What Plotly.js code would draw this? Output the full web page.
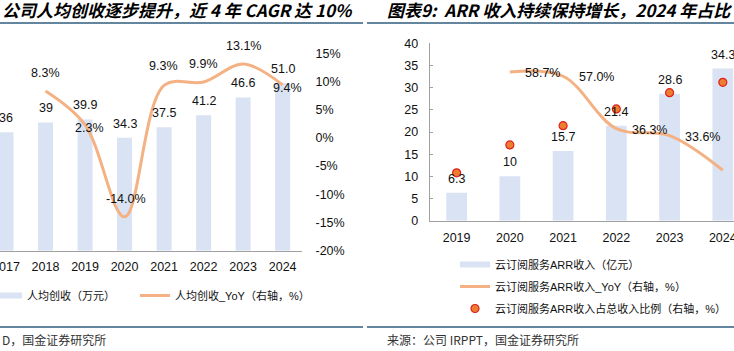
<!DOCTYPE html>
<html>
<head>
<meta charset="utf-8">
<script src="https://cdn.plot.ly/plotly-3.0.1.min.js"></script>
<style>
html,body{margin:0;padding:0;background:#fff;}
#chart{width:734px;height:351px;}
</style>
</head>
<body>
<div id="chart"></div>
<script>
// ---------- data ----------
const leftYears = ['2017','2018','2019','2020','2021','2022','2023','2024'];
const revPerCapita = [36, 39, 39.9, 34.3, 37.5, 41.2, 46.6, 51.0];
const revPerCapitaLabels = ['36','39','39.9','34.3','37.5','41.2','46.6','51.0'];
const yoyYears = ['2018','2019','2020','2021','2022','2023','2024'];
const revYoy = [8.3, 2.3, -14.0, 9.3, 9.9, 13.1, 9.4];
const leftPctTicks = [-20,-15,-10,-5,0,5,10,15];
const leftPctTickText = ['-20%','-15%','-10%','-5%','0%','5%','10%','15%'];

const rightYears = ['2019','2020','2021','2022','2023','2024'];
const arrRevenue = [6.3, 10, 15.7, 21.4, 28.6, 34.3];
const arrRevenueLabels = ['6.3','10','15.7','21.4','28.6','34.3'];
const arrYoyYears = ['2020','2021','2022','2023','2024'];
const arrYoy = [58.7, 57.0, 36.3, 33.6, 19.9];
const arrShare = [18.9, 29.9, 37.5, 44.1, 50.5, 54.6];

const leftTitle = '公司人均创收逐步提升，近 4 年 CAGR 达 10%';
const rightTitle = '图表9:\u00a0\u00a0ARR 收入持续保持增长，2024 年占比';
const leftSource = 'D，国金证券研究所';
const rightSource = '来源：公司 IRPPT，国金证券研究所';

// ---------- styles ----------
const W = 734, H = 351;
const px = x => x / W;
const py = y => 1 - y / H;
const BAR = '#DAE3F3';
const LINE = '#F4B183';
const AXIS = '#A0A0A0';
const TXT = '#111111';
const LAT = 'Liberation Sans, Arial, Noto Sans CJK SC, sans-serif';
const CJK = 'Noto Sans CJK SC, sans-serif';
const RULE = '#2F5C7C';

// label offsets (px) for YoY labels, left chart
const leftYoyShift = [[0,18],[4,-3],[1,18],[-1,19],[0,18],[0,18],[5,-3]];
// the last ARR YoY label lies beyond the visible canvas in the reference
const arrYoyLabelCount = 4;

const traces = [
  {type:'scatter', x:[null], y:[null], xaxis:'x', yaxis:'y', mode:'lines',
   line:{color:BAR, width:6}, name:'人均创收（万元）', legend:'legend', hoverinfo:'skip'},
  {type:'bar', x:leftYears, y:revPerCapita, xaxis:'x', yaxis:'y',
   marker:{color:BAR}, width:0.38, showlegend:false, hoverinfo:'skip'},
  {type:'scatter', x:yoyYears, y:revYoy, xaxis:'x', yaxis:'y2', mode:'lines',
   line:{color:LINE, width:3, shape:'spline', smoothing:1}, name:'人均创收_YoY（右轴，%）', legend:'legend3'},

  {type:'scatter', x:[null], y:[null], xaxis:'x2', yaxis:'y3', mode:'lines',
   line:{color:BAR, width:6}, name:'云订阅服务ARR收入（亿元）', legend:'legend2', legendgroup:'a', hoverinfo:'skip'},
  {type:'bar', x:rightYears, y:arrRevenue, xaxis:'x2', yaxis:'y3',
   marker:{color:BAR}, width:0.39, showlegend:false, hoverinfo:'skip'},
  {type:'scatter', x:arrYoyYears, y:arrYoy, xaxis:'x2', yaxis:'y4', mode:'lines',
   line:{color:LINE, width:3, shape:'spline', smoothing:1}, name:'云订阅服务ARR收入_YoY（右轴，%）', legend:'legend2', legendgroup:'b'},
  {type:'scatter', x:rightYears, y:arrShare, xaxis:'x2', yaxis:'y4', mode:'markers',
   marker:{size:8, color:'#ED7D31', line:{color:'#E0201C', width:1.2}},
   name:'云订阅服务ARR收入占总收入比例（右轴，%）', legend:'legend2', legendgroup:'c'}
];

const lblFont = {family:LAT, size:12.5, color:TXT};
const annotations = [];
revPerCapita.forEach((v,i)=>annotations.push({xref:'x', yref:'y', x:i, y:v, text:revPerCapitaLabels[i],
  showarrow:false, yshift:14, font:lblFont}));
revYoy.forEach((v,i)=>annotations.push({xref:'x', yref:'y2', x:i+1, y:v, text:v.toFixed(1)+'%',
  showarrow:false, xshift:leftYoyShift[i][0], yshift:leftYoyShift[i][1], font:lblFont}));
arrRevenue.forEach((v,i)=>annotations.push({xref:'x2', yref:'y3', x:i, y:v, text:arrRevenueLabels[i],
  showarrow:false, yshift:14, font:lblFont}));
arrYoy.slice(0, arrYoyLabelCount).forEach((v,i)=>annotations.push({xref:'x2', yref:'y4', x:i+1, y:v, text:v.toFixed(1)+'%',
  showarrow:false, xshift:33, yshift:-1, font:lblFont}));

const titleFont = {family:CJK, size:17, color:'#000', weight:'bold', style:'italic'};
annotations.push({xref:'paper', yref:'paper', x:0, y:py(10), xanchor:'left', yanchor:'middle', text:leftTitle,
  showarrow:false, font:titleFont});
annotations.push({xref:'paper', yref:'paper', x:px(385), y:py(10), xanchor:'left', yanchor:'middle', text:rightTitle,
  showarrow:false, font:titleFont});
annotations.push({xref:'paper', yref:'paper', x:0, y:py(339), xanchor:'left', yanchor:'middle', text:leftSource,
  showarrow:false, font:{family:CJK, size:12, color:'#333'}});
annotations.push({xref:'paper', yref:'paper', x:px(385), y:py(339), xanchor:'left', yanchor:'middle', text:rightSource,
  showarrow:false, font:{family:CJK, size:12, color:'#333'}});

const shapes = [
  {type:'line', xref:'paper', yref:'paper', x0:0, x1:px(363), y0:py(23), y1:py(23), line:{color:RULE, width:1.5}},
  {type:'line', xref:'paper', yref:'paper', x0:px(367), x1:1, y0:py(23), y1:py(23), line:{color:RULE, width:1.5}},
  {type:'line', xref:'paper', yref:'paper', x0:0, x1:px(363), y0:py(327), y1:py(327), line:{color:RULE, width:1.5}},
  {type:'line', xref:'paper', yref:'paper', x0:px(367), x1:1, y0:py(327), y1:py(327), line:{color:RULE, width:1.5}}
];

const tickfont = {family:LAT, size:12.5, color:TXT};
const legFont = {family:LAT, size:11, color:TXT};
const layout = {
  width:W, height:H, margin:{l:0, r:0, t:0, b:0, autoexpand:false},
  paper_bgcolor:'#fff', plot_bgcolor:'rgba(0,0,0,0)',
  showlegend:true, hovermode:false,
  xaxis:{domain:[0, px(302)], type:'category', range:[-0.152, 7.49], anchor:'y',
    showline:true, linecolor:AXIS, linewidth:1.5, showgrid:false, zeroline:false, ticks:'',
    tickfont:tickfont, ticklabelstandoff:4, fixedrange:true},
  yaxis:{domain:[py(250.7), py(53.3)], range:[0,60], anchor:'x', visible:false, fixedrange:true},
  yaxis2:{overlaying:'y', side:'right', anchor:'x', range:[-20,15], tickvals:leftPctTicks, ticktext:leftPctTickText,
    showgrid:false, zeroline:false, showline:false, ticks:'outside', ticklen:10, tickcolor:'rgba(0,0,0,0)',
    tickfont:tickfont, fixedrange:true},
  xaxis2:{domain:[px(430), 1], type:'category', range:[-0.5, 5.21], anchor:'y3',
    showline:true, linecolor:AXIS, linewidth:1.3, showgrid:false, zeroline:false, ticks:'',
    tickfont:tickfont, ticklabelstandoff:5, fixedrange:true},
  yaxis3:{domain:[py(220.7), py(43.3)], range:[0,40], dtick:5, anchor:'x2',
    showline:true, linecolor:AXIS, linewidth:1.3, showgrid:false, zeroline:false,
    ticks:'inside', ticklen:3, tickcolor:AXIS, tickfont:tickfont, ticklabelstandoff:8, fixedrange:true},
  yaxis4:{overlaying:'y3', side:'right', anchor:'x2', range:[0,70], visible:false, fixedrange:true},
  legend:{orientation:'v', x:px(-13), y:py(281), xanchor:'left', yanchor:'top',
    font:legFont, bgcolor:'rgba(0,0,0,0)'},
  legend3:{orientation:'v', x:px(135), y:py(281), xanchor:'left', yanchor:'top',
    font:legFont, bgcolor:'rgba(0,0,0,0)'},
  legend2:{orientation:'v', x:px(455), y:py(250), xanchor:'left', yanchor:'top', tracegroupgap:3,
    font:legFont, bgcolor:'rgba(0,0,0,0)', traceorder:'grouped'},
  annotations:annotations, shapes:shapes
};

Plotly.newPlot('chart', traces, layout, {displayModeBar:false, staticPlot:true});
</script>
</body>
</html>
